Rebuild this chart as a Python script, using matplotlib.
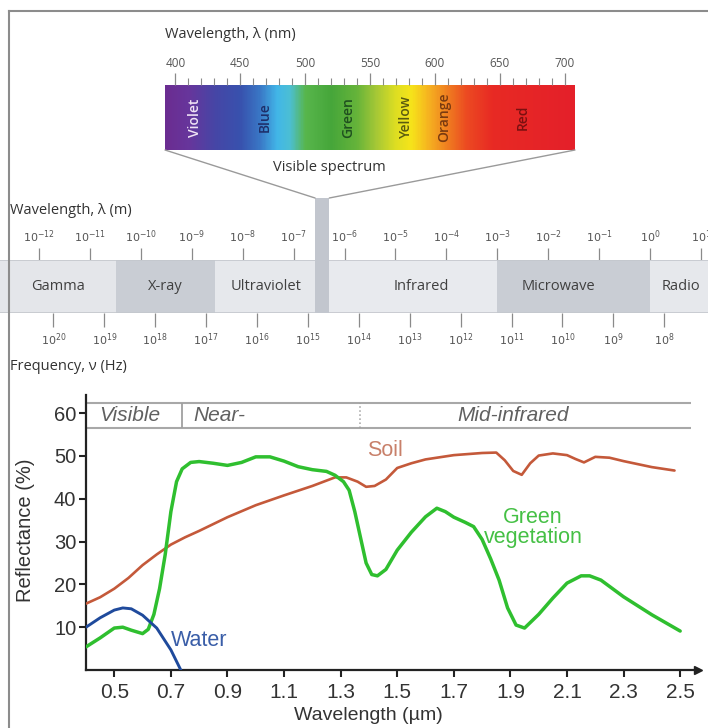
import numpy as np
import matplotlib
matplotlib.use("Agg")
import matplotlib.pyplot as plt
from matplotlib.colors import LinearSegmentedColormap
from matplotlib.patches import Rectangle, ConnectionPatch
from matplotlib.lines import Line2D

plt.rcParams['font.family'] = ['Liberation Sans', 'DejaVu Sans']

# ---------------- data ----------------
# visible spectrum (nm)
spec_range = [392, 708]
spec_major = [400, 450, 500, 550, 600, 650, 700]
spec_minor = list(range(400, 701, 10))
color_names = ["Violet", "Blue", "Green", "Yellow", "Orange", "Red"]
color_name_pos = [415, 469, 533, 578, 607, 668]
color_name_col = ["#efe3f5", "#1e2f6a", "#1f4f1f", "#5a5a10", "#7a3a10", "#7a1010"]
grad_nm = [392, 410, 430, 450, 465, 478, 488, 500, 520, 540, 555, 570, 582, 595, 610, 625, 645, 708]
grad_col = ["#6b2d91", "#67369c", "#4646a6", "#3852ae", "#3a78c6", "#42b6e8", "#4cbfd4",
            "#58b64c", "#46a63a", "#66b43a", "#a6c836", "#dede22", "#f6e41a", "#f6b420",
            "#f07e20", "#ec4a22", "#e82a24", "#e4202a"]

# EM spectrum (log10 wavelength in m)
em_range = [-12.77, 1.14]
band_names = ["Gamma", "X-ray", "Ultraviolet", "", "Infrared", "Microwave", "Radio"]
band_edges = [-12.77, -10.5, -8.54, -6.58, -6.30, -3.0, 0.0, 1.14]
band_cols = ["#e4e6ea", "#c9cdd4", "#e6e8ec", "#c2c6ce", "#e8eaee", "#c9cdd4", "#e6e8ec"]
band_label_pos = [-11.63, -9.52, -7.55, None, -4.5, -1.8, 0.6]
wl_exp = list(range(-12, 2))
freq_exp = list(range(20, 7, -1))
freq_offset = 8.28  # log10 wavelength of 1 Hz on the drawing scale

# reflectance curves
soil_x = [0.40, 0.45, 0.50, 0.55, 0.60, 0.65, 0.70, 0.75, 0.80, 0.90, 1.00, 1.10, 1.20, 1.28,
          1.32, 1.36, 1.39, 1.42, 1.46, 1.50, 1.55, 1.60, 1.70, 1.80, 1.85, 1.88, 1.91, 1.94,
          1.97, 2.00, 2.05, 2.10, 2.13, 2.16, 2.20, 2.25, 2.30, 2.40, 2.48]
soil_y = [15.5, 17, 19, 21.5, 24.5, 27, 29.3, 31, 32.5, 35.7, 38.5, 40.8, 43, 45,
          45, 44, 42.8, 43, 44.5, 47.2, 48.3, 49.2, 50.2, 50.7, 50.8, 49, 46.5, 45.6,
          48.3, 50.1, 50.6, 50.2, 49.3, 48.5, 49.8, 49.6, 48.8, 47.4, 46.6]
veg_x = [0.40, 0.45, 0.50, 0.53, 0.56, 0.60, 0.62, 0.64, 0.66, 0.68, 0.70, 0.72, 0.74, 0.77,
         0.80, 0.85, 0.90, 0.95, 1.00, 1.05, 1.10, 1.15, 1.20, 1.25, 1.28, 1.31, 1.33, 1.35,
         1.37, 1.39, 1.41, 1.43, 1.46, 1.50, 1.55, 1.60, 1.64, 1.67, 1.70, 1.74, 1.77, 1.80,
         1.83, 1.86, 1.89, 1.92, 1.95, 2.00, 2.05, 2.10, 2.15, 2.18, 2.22, 2.30, 2.40, 2.50]
veg_y = [5.4, 7.5, 9.8, 10.0, 9.3, 8.5, 9.5, 13, 19, 27, 37, 44, 47, 48.5,
         48.7, 48.3, 47.8, 48.5, 49.8, 49.8, 48.8, 47.5, 46.8, 46.4, 45.5, 44, 42, 37,
         31, 25, 22.3, 22, 23.5, 28, 32.2, 35.8, 37.8, 37, 35.7, 34.5, 33.5, 30.5,
         26, 21, 14.5, 10.5, 9.8, 13, 16.8, 20.3, 22.0, 22.0, 21, 17.1, 12.9, 9.1]
water_x = [0.40, 0.45, 0.50, 0.53, 0.56, 0.60, 0.65, 0.70, 0.735]
water_y = [10, 12.2, 14, 14.5, 14.3, 12.8, 9.8, 4.7, 0]

xticks = [0.5, 0.7, 0.9, 1.1, 1.3, 1.5, 1.7, 1.9, 2.1, 2.3, 2.5]
yticks = [10, 20, 30, 40, 50, 60]
regions = ["Visible", "Near-", "Mid-infrared"]

# ---------------- figure ----------------
W, H = 708, 728
fig = plt.figure(figsize=(W / 100, H / 100), dpi=100)
fig.patch.set_facecolor("white")

def rect(x0, y0, x1, y1):
    return [x0 / W, 1 - y1 / H, (x1 - x0) / W, (y1 - y0) / H]

TOPF = ['Open Sans', 'DejaVu Sans']

# --- visible spectrum bar ---
ax_s = fig.add_axes(rect(165, 85, 575, 150))
cmap = LinearSegmentedColormap.from_list(
    "vis", [((n - grad_nm[0]) / (grad_nm[-1] - grad_nm[0]), c) for n, c in zip(grad_nm, grad_col)])
grad = np.linspace(spec_range[0], spec_range[1], 600).reshape(1, -1)
ax_s.imshow(grad, cmap=cmap, aspect="auto", extent=[spec_range[0], spec_range[1], 0, 1],
            vmin=spec_range[0], vmax=spec_range[1])
ax_s.set_xlim(spec_range)
ax_s.set_ylim(0, 1)
for sp in ax_s.spines.values():
    sp.set_visible(False)
ax_s.xaxis.tick_top()
ax_s.set_xticks(spec_major)
ax_s.set_xticks(spec_minor, minor=True)
ax_s.set_yticks([])
ax_s.tick_params(axis="x", which="major", length=9, width=0.9, color="#8a8a8a",
                 labelsize=8.5, labelcolor="#555555", pad=2)
ax_s.tick_params(axis="x", which="minor", length=5, width=0.8, color="#8a8a8a")
for lab in ax_s.get_xticklabels():
    lab.set_family(TOPF)
for name, pos, col in zip(color_names, color_name_pos, color_name_col):
    ax_s.text(pos, 0.5, name, rotation=90, ha="center", va="center", fontsize=10,
              color=col, family=TOPF, weight="semibold")
ax_s.text(0, 1.77, "Wavelength, λ (nm)", transform=ax_s.transAxes, ha="left", va="center",
          fontsize=10.5, color="#333333", family=TOPF)
ax_s.text(519, -0.27, "Visible spectrum", ha="center", va="center", fontsize=10.5,
          color="#333333", family=TOPF)

# --- EM band ---
ax_e = fig.add_axes(rect(0, 260, W, 313))
ax_e.set_xlim(em_range)
ax_e.set_ylim(0, 1)
for sp in ax_e.spines.values():
    sp.set_visible(False)
ax_e.set_yticks([])
for i, col in enumerate(band_cols):
    ax_e.add_patch(Rectangle((band_edges[i], 0), band_edges[i + 1] - band_edges[i], 1,
                             facecolor=col, edgecolor="none", zorder=1))
ax_e.axhline(1, color="#c4c7cd", lw=1.2, zorder=2)
ax_e.axhline(0, color="#c4c7cd", lw=1.2, zorder=2)
col_top = (313 - 198) / 53
ax_e.add_patch(Rectangle((band_edges[3], 0), band_edges[4] - band_edges[3], col_top,
                         facecolor=band_cols[3], edgecolor="none", zorder=3, clip_on=False))
for name, pos in zip(band_names, band_label_pos):
    if pos is not None:
        ax_e.text(pos, 0.5, name, ha="center", va="center", fontsize=10.5, color="#404040",
                  family=TOPF, zorder=4)
# frequency ticks (bottom)
ax_e.set_xticks([freq_offset - f for f in freq_exp])
ax_e.set_xticklabels([r"$10^{%d}$" % f for f in freq_exp])
ax_e.tick_params(axis="x", bottom=True, length=10, width=0.9, color="#8a8a8a",
                 labelsize=8, labelcolor="#555555", pad=3)
# wavelength ticks (top)
sec = ax_e.secondary_xaxis("top")
sec.set_xticks(wl_exp)
sec.set_xticklabels([r"$10^{%d}$" % e for e in wl_exp])
sec.tick_params(axis="x", length=9, width=0.9, color="#8a8a8a", labelsize=8,
                labelcolor="#555555", pad=2)
for sp in sec.spines.values():
    sp.set_visible(False)
ax_e.text(10 / W, (313 - 210) / 53, "Wavelength, λ (m)", transform=ax_e.transAxes,
          ha="left", va="center", fontsize=10.5, color="#333333", family=TOPF)
ax_e.text(10 / W, (313 - 367) / 53, "Frequency, ν (Hz)", transform=ax_e.transAxes,
          ha="left", va="center", fontsize=10.5, color="#333333", family=TOPF)

# funnel from spectrum bar to visible column
for xa, xb in [(spec_range[0], band_edges[3]), (spec_range[1], band_edges[4])]:
    con = ConnectionPatch(xyA=(xa, 0), coordsA=ax_s.transData,
                          xyB=(xb, col_top), coordsB=ax_e.transData,
                          color="#9a9a9a", lw=1.0)
    fig.add_artist(con)

# --- reflectance chart ---
ax = fig.add_axes(rect(86, 395, 698, 670))
ax.set_xlim(0.4, 2.563)
ax.set_ylim(0, 64.25)
ax.plot(soil_x, soil_y, color="#c4593a", lw=1.9, solid_capstyle="round", zorder=3)
ax.plot(veg_x, veg_y, color="#2fbf2f", lw=2.5, solid_capstyle="round", zorder=4)
ax.plot(water_x, water_y, color="#1f4a9c", lw=2.1, solid_capstyle="round", zorder=4)

ax.text(1.455, 51.3, "Soil", color="#c8806a", fontsize=15.5, ha="center", va="center")
ax.text(1.98, 33.2, "Green\nvegetation", color="#45c045", fontsize=15.5, ha="center",
        va="center", linespacing=0.95)
ax.text(0.70, 7.0, "Water", color="#3a5ea8", fontsize=15.5, ha="left", va="center")

# region header
ax.hlines([62.4, 56.5], 0.4, 2.54, color="#a8a8a8", lw=1.5, zorder=2)
ax.vlines(0.74, 56.5, 62.4, color="#a0a0a0", lw=1.3)
ax.vlines(1.37, 56.5, 62.4, color="#a0a0a0", lw=1.1, linestyles=":")
ax.text(0.447, 59.4, regions[0], style="italic", fontsize=15, color="#606060",
        ha="left", va="center")
ax.text(0.78, 59.4, regions[1], style="italic", fontsize=15, color="#606060",
        ha="left", va="center")
ax.text(1.91, 59.4, regions[2], style="italic", fontsize=15, color="#606060",
        ha="center", va="center")

for s in ["top", "right"]:
    ax.spines[s].set_visible(False)
for s in ["left", "bottom"]:
    ax.spines[s].set_linewidth(1.6)
    ax.spines[s].set_color("#222222")
ax.plot(1, 0, ">", color="#222222", ms=6, transform=ax.get_yaxis_transform(), clip_on=False)
ax.plot(0, 1, "^", color="#222222", ms=5, transform=ax.get_xaxis_transform(), clip_on=False)
ax.set_xticks(xticks)
ax.set_xticklabels([f"{v:.1f}" for v in xticks])
ax.set_yticks(yticks)
ax.tick_params(axis="both", direction="out", length=5, width=1.5, color="#222222",
               labelcolor="#333333")
ax.tick_params(axis="x", labelsize=15, pad=4)
ax.tick_params(axis="y", labelsize=14.5, pad=2)
ax.set_ylabel("Reflectance (%)", fontsize=14.5, color="#333333")
ax.yaxis.set_label_coords((35 - 86) / 612, 0.51)
ax.set_xlabel("Wavelength (µm)", fontsize=14, color="#333333")
ax.xaxis.set_label_coords((368 - 86) / 612, (670 - 707) / 275)

# outer frame (left and top edges)
fig.add_artist(Line2D([8.5 / W, 8.5 / W], [0, 1 - 11 / H], transform=fig.transFigure,
                      color="#8c8c8c", lw=1.5))
fig.add_artist(Line2D([8.5 / W, 1], [1 - 11 / H, 1 - 11 / H], transform=fig.transFigure,
                      color="#8c8c8c", lw=1.5))

fig.savefig("out.png", dpi=100, facecolor="white")
